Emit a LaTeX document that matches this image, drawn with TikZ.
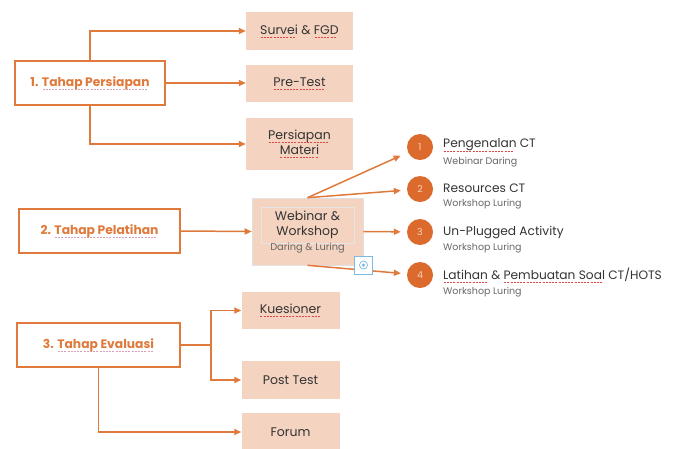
\documentclass[tikz,border=0pt]{standalone}
\usepackage{fontspec}
\setmainfont{Poppins}
\usetikzlibrary{arrows.meta}
\definecolor{org}{HTML}{E07A3C}
\definecolor{peach}{HTML}{F4D3C0}
\definecolor{circ}{HTML}{DC6A2C}
\definecolor{txt}{HTML}{333333}
\definecolor{sub}{HTML}{666666}
\definecolor{spellred}{HTML}{E04848}
\definecolor{spellpink}{HTML}{D8A0B8}
\definecolor{locblue}{HTML}{7DB9E3}
\newcommand\splx[2]{\setbox0\hbox{#2}\rlap{\raisebox{-3.5pt}{\color{#1}\hbox to \wd0{\leaders\hbox to 3.2pt{\hss\rule{2pt}{0.7pt}\hss}\hfill}}}\box0\relax}
\newcommand\spl[1]{\splx{spellred}{#1}}
\newcommand\splp[1]{\splx{spellpink}{#1}}
\tikzset{
  head/.style={draw=org, line width=1.8pt, fill=white, text=org, font=\fontsize{12.3}{14}\selectfont\bfseries, inner sep=0pt},
  pbox/.style={fill=peach, text=txt, font=\fontsize{12.5}{15}\selectfont, align=center, inner sep=0pt, minimum width=#1},
  num/.style={circle, fill=circ, text=peach, minimum size=26pt, inner sep=0pt, font=\fontsize{9.5}{10}\selectfont},
  ttl/.style={anchor=west, text=txt, font=\fontsize{12.2}{14}\selectfont, inner sep=0pt},
  subt/.style={anchor=west, text=sub, font=\fontsize{9.5}{11}\selectfont, inner sep=0pt},
  arr/.style={draw=org, line width=1.5pt, -{Triangle[length=7pt,width=6pt]}},
  ln/.style={draw=org, line width=1.5pt},
}
\begin{document}
\begin{tikzpicture}[x=1pt,y=-1pt]
\useasboundingbox (0,0) rectangle (682,448);
\clip (0,0) rectangle (682,448);
% stage 1
\node[head, minimum width=150pt, minimum height=44pt] (p1) at (90,83) {1. \splp{Tahap Persiapan}};
\node[pbox=107pt, minimum height=38pt] (s1) at (299.5,31) {\spl{Survei} \& \spl{FGD}};
\node[pbox=107pt, minimum height=37pt] (s2) at (299.5,83.5) {\spl{Pre-Test}};
\node[pbox=107pt, minimum height=52pt] (s3) at (299.5,144) {\spl{Persiapan}\\[0pt]\spl{Materi}};
\draw[arr] (p1.north) |- (s1.west);
\draw[arr] (p1.east) -- (p1.east -| s2.west);
\draw[arr] (p1.south) |- (s3.west);
% stage 2
\node[head, minimum width=161pt, minimum height=44pt] (p2) at (99.5,231) {2. \splp{Tahap Pelatihan}};
\node[fill=peach, draw=black!12, line width=0.6pt, minimum width=111pt, minimum height=67pt, inner sep=0pt] (ww) at (307.5,231.5) {};
\node[draw=black!10, line width=0.6pt, minimum width=93pt, minimum height=36pt, inner sep=0pt] (wi) at (307.5,225) {};
\node[text=txt, font=\fontsize{12.5}{15}\selectfont, align=center, inner sep=0pt] (wt) at (307.5,225) {Webinar \&\\Workshop};
\node[text=sub, font=\fontsize{9.8}{11}\selectfont, inner sep=0pt] (wd) at (307.5,248) {Daring \& Luring};
\draw[arr] (p2.east) -- (ww.west);
\node[num] (c1) at (420,147) {1};
\node[num] (c2) at (420,189) {2};
\node[num] (c3) at (420,232) {3};
\node[num] (c4) at (420,275) {4};
\draw[arr, shorten >=8pt] (ww.north) -- (c1);
\draw[arr, shorten >=6pt] (ww.north) -- (c2);
\draw[arr, shorten >=6pt] (ww.east) -- (c3);
\draw[arr, shorten >=6pt] (ww.south) -- (c4);
\node[ttl] (t1) at (443,145) {\spl{Pengenalan} CT};
\node[subt] (u1) at (443,162) {Webinar Daring};
\node[ttl] (t2) at (443,188) {Resources CT};
\node[subt] (u2) at (443,204.5) {Workshop Luring};
\node[ttl] (t3) at (443,232) {Un-Plugged Activity};
\node[subt] (u3) at (443,248.5) {Workshop Luring};
\node[ttl] (t4) at (443,275) {\spl{Latihan} \& \spl{Pembuatan Soal} CT/HOTS};
\node[subt] (u4) at (443,292) {Workshop Luring};
% locator icon
\node[draw=locblue, fill=white, line width=0.8pt, minimum size=18pt, inner sep=0pt] (loc) at (363.5,265) {};
\node[draw=locblue, circle, line width=0.7pt, minimum size=8pt, inner sep=0pt] (locc) at (loc.center) {};
\node[fill=locblue, circle, minimum size=3.5pt, inner sep=0pt] (locd) at (loc.center) {};
% stage 3
\node[head, minimum width=163pt, minimum height=44pt] (p3) at (98.5,345) {3. \splp{Tahap Evaluasi}};
\node[pbox=98pt, minimum height=37pt] (e1) at (290.5,310.5) {\spl{Kuesioner}};
\node[pbox=98pt, minimum height=38pt] (e2) at (290.5,380) {Post Test};
\node[pbox=98pt, minimum height=38pt] (e3) at (290.5,432) {Forum};
\coordinate (j) at (211,345);
\draw[ln] (p3.east) -- (j);
\draw[arr] (j) |- (e1.west);
\draw[arr] (j) |- (e2.west);
\draw[arr] (p3.south) |- (e3.west);
\end{tikzpicture}
\end{document}
